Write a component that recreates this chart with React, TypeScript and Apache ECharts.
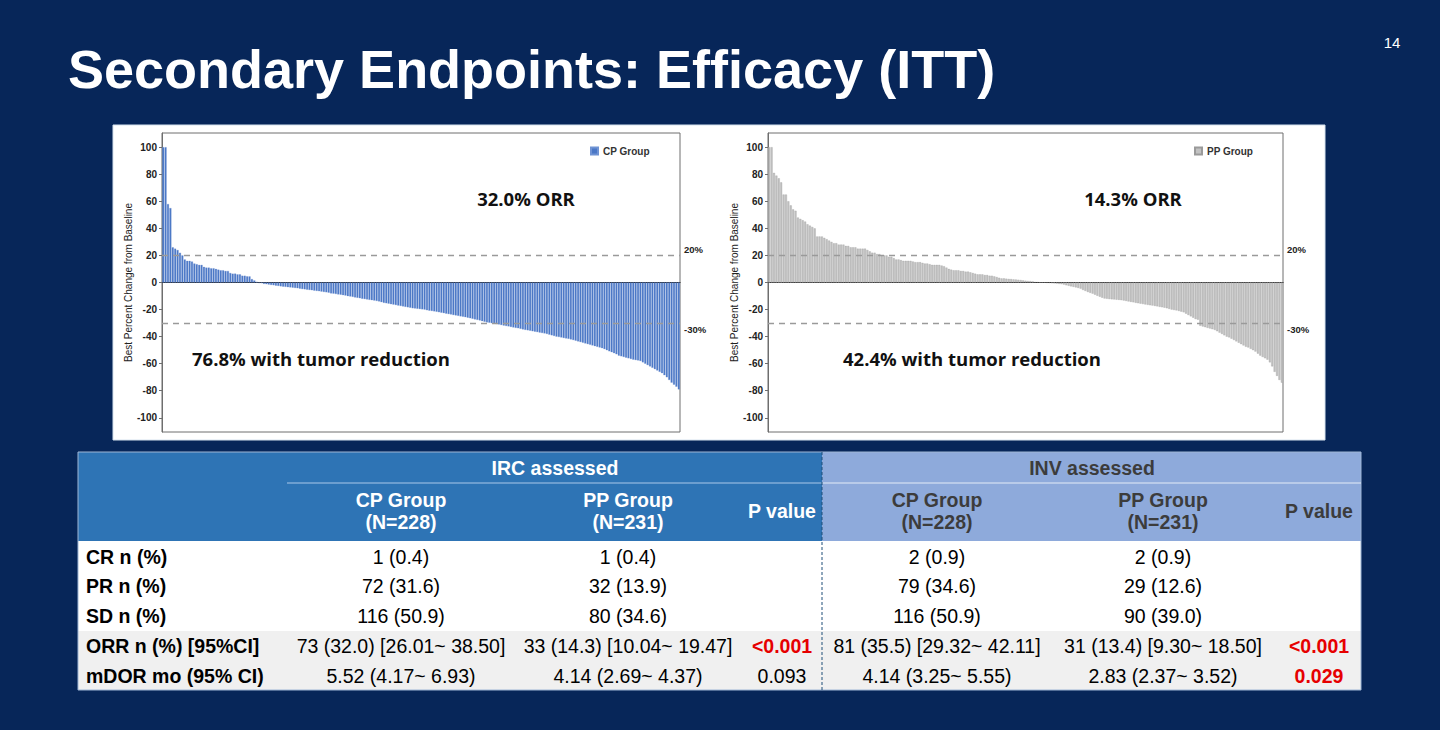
import React, { useEffect, useRef } from 'react';
import * as echarts from 'echarts';

// ---------------- DATA ----------------
const cpValues = [
  100, 100, 58, 55, 26, 25, 24, 22, 20,
  17, 16, 16, 15.5,
  14, 13.5, 13, 13,
  11.5, 11, 11, 10.5, 10.5, 10,
  9.5, 9, 9, 8.5, 8.5,
  7, 6.5, 6.5, 6, 6,
  5, 5, 4.5, 4.5,
  2.5, 1.5, 0.5,
  -0.3, -0.5, -1, -1.2, -1.5, -1.8, -2, -2.3, -2.5, -2.8, -3,
  -3.2, -3.4, -3.6, -3.8, -4, -4.2, -4.5, -4.8, -5, -5.3,
  -5.5, -5.7, -6, -6.2, -6.4, -6.7, -7, -7.2, -7.5, -8,
  -8.2, -8.5, -8.8, -9, -9.3, -9.6, -10, -10.3, -10.6, -11,
  -11.3, -11.6, -12, -12.2, -12.5, -12.8, -13, -13.3, -13.6, -14,
  -14.5, -15, -15.3, -15.6, -16, -16.3, -16.6, -17, -17.3, -17.6,
  -18, -18.3, -18.6, -19, -19.2, -19.4, -19.6, -19.8, -20, -20.5,
  -20.8, -21, -21.3, -21.6, -22, -22.3, -22.6, -23, -23.3, -23.6,
  -24, -24.3, -24.6, -25, -25.3, -25.6, -26, -26.4, -26.8, -27.2,
  -27.6, -28, -28.5, -29, -29.4, -29.7, -30, -30.3, -30.7, -31,
  -31.4, -31.8, -32.1, -32.4, -32.8, -33.2, -33.5, -33.8, -34.2, -34.6,
  -35, -35.3, -35.6, -36, -36.3, -36.6, -37, -37.3, -37.6, -38,
  -38.5, -39, -39.5, -40, -40.3, -40.6, -41, -41.3, -41.6, -42,
  -42.5, -43, -43.5, -44, -44.5, -45, -45.5, -46, -46.5, -47,
  -47.5, -48, -48.5, -49.2, -50, -50.8, -51.5, -52.2, -53, -54,
  -54.5, -55, -55.5, -56, -56.5, -57, -57.3, -57.6, -58, -59,
  -60, -61, -62, -63, -64, -65, -66, -67, -68.5, -70,
  -72, -74, -75.5, -77, -79,
];

const ppValues = [
  100, 100,
  81, 79, 77, 74,
  65, 65,
  60, 57, 54, 53,
  48, 47, 46, 45, 43, 42, 41, 40,
  34, 34, 34, 33, 32,
  31, 30, 29, 29,
  28, 28, 28, 27, 27, 26, 26,
  26, 25, 25, 25, 25, 24, 23,
  22, 22, 21, 21, 20, 20, 20,
  19, 19, 18, 17,
  17, 16.5, 16, 16, 16, 16, 15.5, 15, 15, 15, 14.5, 14,
  14, 13.5, 13, 13, 13, 13, 12.5, 12,
  11, 10, 9.5,
  9, 9, 9, 8.5, 8.5, 8, 8, 7.5,
  7, 6.5, 6, 6, 6, 5.5, 5.5, 5, 5, 4.5, 4,
  3.5, 3, 3, 2.8, 2.6, 2.5, 2.3, 2.2, 2,
  1.8, 1.5, 1.3, 1.1, 1, 0.8,
  0.3, 0.2, 0, 0, 0,
  -0.2, -0.3, -0.5, -0.6, -0.8,
  -1, -1.2, -1.5, -2, -2.4,
  -2.8, -3.2, -3.6, -4, -4.5,
  -5.5, -6.2, -7, -7.6, -8.2,
  -9, -9.8, -10.5, -11.2, -11.8,
  -12, -12.2, -12.4, -12.5, -12.7,
  -12.8, -13, -13.3, -13.6, -14,
  -14.3, -14.6, -15, -15.3, -15.6,
  -15.9, -16.2, -16.5, -16.8, -17,
  -17.3, -17.6, -18, -18.3, -18.6,
  -19, -19.5, -20, -20.3, -20.6,
  -21, -21.5, -22, -23, -24,
  -25, -26, -27, -27.5, -32,
  -32.5, -33, -33.5, -34, -34.5,
  -35, -36, -37, -38, -39,
  -40, -40.5, -41.5, -42.5, -43.5,
  -44.5, -45.5, -46.5, -47.5, -48,
  -49, -50, -51, -52.5, -54,
  -55, -56, -57, -59, -62,
  -66, -69, -72, -74,
];

const yTicks = [-100, -80, -60, -40, -20, 0, 20, 40, 60, 80, 100];
const thresholds = [20, -30];
const thresholdLabels = ['20%', '-30%'];
const seriesNames = ['CP Group', 'PP Group'];
const orrTexts = ['32.0% ORR', '14.3% ORR'];
const reductionTexts = ['76.8% with tumor reduction', '42.4% with tumor reduction'];
const yAxisName = 'Best Percent Change from Baseline';

const titleText = 'Secondary Endpoints: Efficacy (ITT)';
const pageNumber = '14';

const groupHeaders = ['IRC assessed', 'INV assessed'];
const columnHeaders = ['CP Group\n(N=228)', 'PP Group\n(N=231)', 'P value'];
const rowLabels = ['CR n (%)', 'PR n (%)', 'SD n (%)', 'ORR n (%) [95%CI]', 'mDOR mo (95% CI)'];
const ircCP = ['1 (0.4)', '72 (31.6)', '116 (50.9)', '73 (32.0) [26.01~ 38.50]', '5.52 (4.17~ 6.93)'];
const ircPP = ['1 (0.4)', '32 (13.9)', '80 (34.6)', '33 (14.3) [10.04~ 19.47]', '4.14 (2.69~ 4.37)'];
const ircP = ['', '', '', '<0.001', '0.093'];
const invCP = ['2 (0.9)', '79 (34.6)', '116 (50.9)', '81 (35.5) [29.32~ 42.11]', '4.14 (3.25~ 5.55)'];
const invPP = ['2 (0.9)', '29 (12.6)', '90 (39.0)', '31 (13.4) [9.30~ 18.50]', '2.83 (2.37~ 3.52)'];
const invP = ['', '', '', '<0.001', '0.029'];

// ---------------- STYLE ----------------
const ARIAL = '"Liberation Sans", Arial, Helvetica, sans-serif';
const OPEN = '"Open Sans", "Noto Sans", sans-serif';
const NAVY = '#072659';
const IRC_BLUE = '#2e74b5';
const INV_BLUE = '#8eaadb';

function txt(text: string, x: number, y: number, o: any = {}) {
  return {
    type: 'text',
    x,
    y,
    z: 100,
    style: {
      text,
      fill: o.fill ?? '#000',
      fontSize: o.size ?? 19.5,
      fontWeight: o.weight ?? 'normal',
      fontFamily: o.family ?? ARIAL,
      textAlign: o.align ?? 'center',
      align: o.align ?? 'center',
      textVerticalAlign: 'middle',
      verticalAlign: 'middle',
      lineHeight: o.lineHeight ?? undefined,
    },
  };
}

function isSignificant(p: string) {
  if (!p) return false;
  if (p.startsWith('<')) return true;
  return parseFloat(p) < 0.05;
}

export default function App() {
  const ref = useRef<HTMLDivElement>(null);

  useEffect(() => {
    if (!ref.current) return;
    const chart = echarts.init(ref.current, undefined, { renderer: 'svg' });

    const grids = [
      { left: 162, top: 133, width: 518, height: 299 },
      { left: 768, top: 133, width: 515, height: 299 },
    ];
    const allValues = [cpValues, ppValues];
    const barColors = ['#4a77c6', '#c2c2c2'];
    const barBorders = ['#6f93d4', '#9a9a9a'];

    const graphics: any[] = [];
    // title + page number
    graphics.push(txt(titleText, 68, 69, { fill: '#fff', size: 54, weight: 'bold', align: 'left' }));
    graphics.push(txt(pageNumber, 1392, 42, { fill: '#fff', size: 15 }));
    // white panel
    graphics.push({
      type: 'rect', z: -5,
      shape: { x: 113, y: 125, width: 1212, height: 315 },
      style: { fill: '#fff', stroke: '#d6e2ee', lineWidth: 1 },
    });
    // chart annotations
    const orrX = [526, 1133];
    const redX = [192, 843];
    for (let k = 0; k < 2; k++) {
      graphics.push(txt(orrTexts[k], orrX[k], 198, { size: 18.5, weight: 'bold', family: OPEN, fill: '#111' }));
      graphics.push(txt(reductionTexts[k], redX[k], 358, { size: 18.5, weight: 'bold', family: OPEN, fill: '#111', align: 'left' }));
    }

    // ---------------- TABLE ----------------
    const tX0 = 78, tX1 = 1361, split = 822, labelW = 287;
    const hTop = 452, hBot = 541, bodyMid = 631, tBot = 690;
    graphics.push({ type: 'rect', z: 1, shape: { x: tX0, y: hTop, width: split - tX0, height: hBot - hTop }, style: { fill: IRC_BLUE } });
    graphics.push({ type: 'rect', z: 1, shape: { x: split, y: hTop, width: tX1 - split, height: hBot - hTop }, style: { fill: INV_BLUE } });
    graphics.push({ type: 'rect', z: 1, shape: { x: tX0, y: hBot, width: tX1 - tX0, height: bodyMid - hBot }, style: { fill: '#ffffff' } });
    graphics.push({ type: 'rect', z: 1, shape: { x: tX0, y: bodyMid, width: tX1 - tX0, height: tBot - bodyMid }, style: { fill: '#f0f0f0' } });
    graphics.push({ type: 'rect', z: 2, shape: { x: tX0, y: hTop, width: tX1 - tX0, height: tBot - hTop }, style: { fill: 'none', stroke: '#9fb6d6', lineWidth: 1 } });
    graphics.push({ type: 'line', z: 3, shape: { x1: labelW, y1: 483, x2: split, y2: 483 }, style: { stroke: '#a9c8ea', lineWidth: 1.2 } });
    graphics.push({ type: 'line', z: 3, shape: { x1: split, y1: 483, x2: tX1, y2: 483 }, style: { stroke: '#e3ebf7', lineWidth: 1.2 } });
    graphics.push({ type: 'line', z: 3, shape: { x1: split, y1: hTop, x2: split, y2: tBot }, style: { stroke: '#1f4e79', lineWidth: 1, lineDash: [3, 2] } });

    const groupCenters = [555, 1092];
    const colCenters = [[401, 628, 782], [937, 1163, 1319]];
    const headColors = ['#ffffff', '#3c3c3c'];
    for (let g = 0; g < 2; g++) {
      graphics.push(txt(groupHeaders[g], groupCenters[g], 468, { fill: headColors[g], weight: 'bold' }));
      for (let c = 0; c < 3; c++) {
        graphics.push(txt(columnHeaders[c], colCenters[g][c], 511, { fill: headColors[g], weight: 'bold', lineHeight: 22 }));
      }
    }
    const rowY = [557, 586, 616, 646, 676];
    const cols = [[ircCP, ircPP, ircP], [invCP, invPP, invP]];
    rowLabels.forEach((lab, r) => {
      graphics.push(txt(lab, 86, rowY[r], { weight: 'bold', align: 'left' }));
      for (let g = 0; g < 2; g++) {
        for (let c = 0; c < 3; c++) {
          const v = cols[g][c][r];
          if (!v) continue;
          const sig = c === 2 && isSignificant(v);
          graphics.push(txt(v, colCenters[g][c], rowY[r], { fill: sig ? '#e60000' : '#000', weight: sig ? 'bold' : 'normal' }));
        }
      }
    });

    const option: any = {
      animation: false,
      backgroundColor: NAVY,
      grid: grids.map((g) => ({ ...g, show: true, borderColor: '#6e6e6e', borderWidth: 1, backgroundColor: 'transparent' })),
      legend: [0, 1].map((k) => ({
        data: [seriesNames[k]],
        left: k === 0 ? 590 : 1194,
        top: 146,
        padding: 0,
        icon: 'rect',
        itemWidth: 7,
        itemHeight: 7,
        itemGap: 4,
        textStyle: { fontSize: 10, fontWeight: 'bold', color: '#333', fontFamily: ARIAL },
      })),
      xAxis: [0, 1].map((k) => ({
        type: 'category',
        gridIndex: k,
        data: allValues[k].map((_, i) => String(i + 1)),
        axisLine: { onZero: true, lineStyle: { color: '#222', width: 1.2 } },
        axisTick: { show: false },
        axisLabel: { show: false },
        splitLine: { show: false },
      })),
      yAxis: [0, 1].map((k) => ({
        type: 'value',
        gridIndex: k,
        min: -110.5,
        max: 110.5,
        name: yAxisName,
        nameLocation: 'middle',
        nameRotate: 90,
        nameGap: 29,
        nameTextStyle: { fontSize: 10, color: '#222', fontFamily: ARIAL },
        axisLine: { show: true, lineStyle: { color: '#6e6e6e' } },
        axisTick: { show: true, length: 3, customValues: yTicks, lineStyle: { color: '#6e6e6e' } },
        axisLabel: { customValues: yTicks, margin: 5, fontSize: 10, fontWeight: 'bold', color: '#222', fontFamily: ARIAL },
        splitLine: { show: false },
      })),
      series: [0, 1].map((k) => ({
        type: 'bar',
        name: seriesNames[k],
        xAxisIndex: k,
        yAxisIndex: k,
        data: allValues[k],
        barCategoryGap: '18%',
        itemStyle: { color: barColors[k], borderColor: barBorders[k], borderWidth: 0.3 },
        markLine: {
          silent: true,
          symbol: ['none', 'none'],
          lineStyle: { type: [6, 5], color: '#9a9a9a', width: 1.3 },
          data: thresholds.map((t, i) => ({
            yAxis: t,
            label: {
              show: true,
              position: 'end',
              formatter: i === 0 ? thresholdLabels[i] + '\n ' : ' \n' + thresholdLabels[i],
              lineHeight: 12,
              fontSize: 9.5,
              fontWeight: 'bold',
              color: '#222',
              fontFamily: ARIAL,
              distance: 4,
            },
          })),
        },
      })),
      graphic: { elements: graphics },
    };

    chart.setOption(option);
    return () => chart.dispose();
  }, []);

  return (
    <div
      ref={ref}
      style={{ position: 'fixed', left: 0, top: 0, width: 1440, height: 730 }}
    />
  );
}
